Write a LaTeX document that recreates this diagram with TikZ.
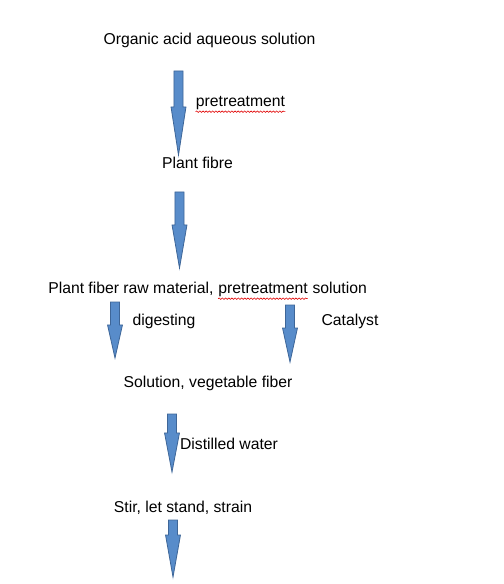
\documentclass[tikz,border=0pt]{standalone}
\usepackage{fontspec}
\setmainfont{Liberation Sans}
\usepackage{tikz}
\usetikzlibrary{calc,positioning,decorations.pathmorphing}
\tikzset{
  flownode/.style = {align=center, inner sep=0pt, black, text height=8.4pt, text depth=0pt,
  font=\fontsize{11.8pt}{14pt}\selectfont},
  flow_n/.style = {flownode},
  flow_l/.style = {flownode}
}
\definecolor{my_blue}{RGB}{88,140,202}
\definecolor{my_edge}{RGB}{62,102,152}
\definecolor{my_squig}{RGB}{225,0,0}
\newcommand{\flowarrow}[3]{%
  \path[barrow] let \p1=(#1), \p2=(#2) in
    (\x1-3.4pt,\y1) -- (\x1+3.4pt,\y1) -- (\x1+3.4pt,\y2+#3) -- (\x1+5.6pt,\y2+#3)
    -- (\x1,\y2) -- (\x1-5.6pt,\y2+#3) -- (\x1-3.4pt,\y2+#3) -- cycle;}

\begin{document}
\begin{tikzpicture}[x=0.75pt,y=-0.75pt,
        barrow/.style={fill=my_blue, draw=my_edge, line width=0.6pt, line join=miter},
        squig/.style={draw=my_squig, line width=0.45pt, decorate,
          decoration={snake, segment length=2.4pt, amplitude=0.55pt}}]
        \fill[white] (0,0) rectangle (503,584);
        \useasboundingbox (0,0) rectangle (503,584);
        \node [flow_n] (acid) at (209.5,39) {Organic acid aqueous solution};
        \node [flow_l] (pretreat) at (240.5,101) {pretreatment};
        \node [flow_n] (fibre) at (197.5,163) {Plant fibre};
        \node [flow_n, anchor=west] (raw) at (48,288) {Plant fiber raw material,};
        \node [flow_n, right=3.28pt of raw] (rawpre) {pretreatment};
        \node [flow_n, right=3.28pt of rawpre] (rawsol) {solution};
        \node [flow_l] (digest) at (164,320) {digesting};
        \node [flow_l] (catalyst) at (350,320) {Catalyst};
        \node [flow_n] (solution) at (208,382) {Solution, vegetable fiber};
        \node [flow_l] (water) at (229,444) {Distilled water};
        \node [flow_n] (stir) at (183,507) {Stir, let stand, strain};

        \draw [squig] ([yshift=-3.6pt]pretreat.south west) -- ([yshift=-3.6pt]pretreat.south east);
        \draw [squig] ([yshift=-3.6pt]rawpre.south west) -- ([yshift=-3.6pt]rawpre.south east);

        \coordinate (a1) at (178.5,71);  \coordinate (b1) at (178.5,155);
        \coordinate (a2) at (179.5,192); \coordinate (b2) at (179.5,268);
        \coordinate (a3) at (115,302);   \coordinate (b3) at (115,358);
        \coordinate (a4) at (290,305);   \coordinate (b4) at (290,362);
        \coordinate (a5) at (172,414);   \coordinate (b5) at (172,472);
        \coordinate (a6) at (173,520);   \coordinate (b6) at (173,577);
        \flowarrow{a1}{b1}{36pt}
        \flowarrow{a2}{b2}{32.3pt}
        \flowarrow{a3}{b3}{24.8pt}
        \flowarrow{a4}{b4}{25.5pt}
        \flowarrow{a5}{b5}{29.3pt}
        \flowarrow{a6}{b6}{31.5pt}
        \end{tikzpicture}
\end{document}
